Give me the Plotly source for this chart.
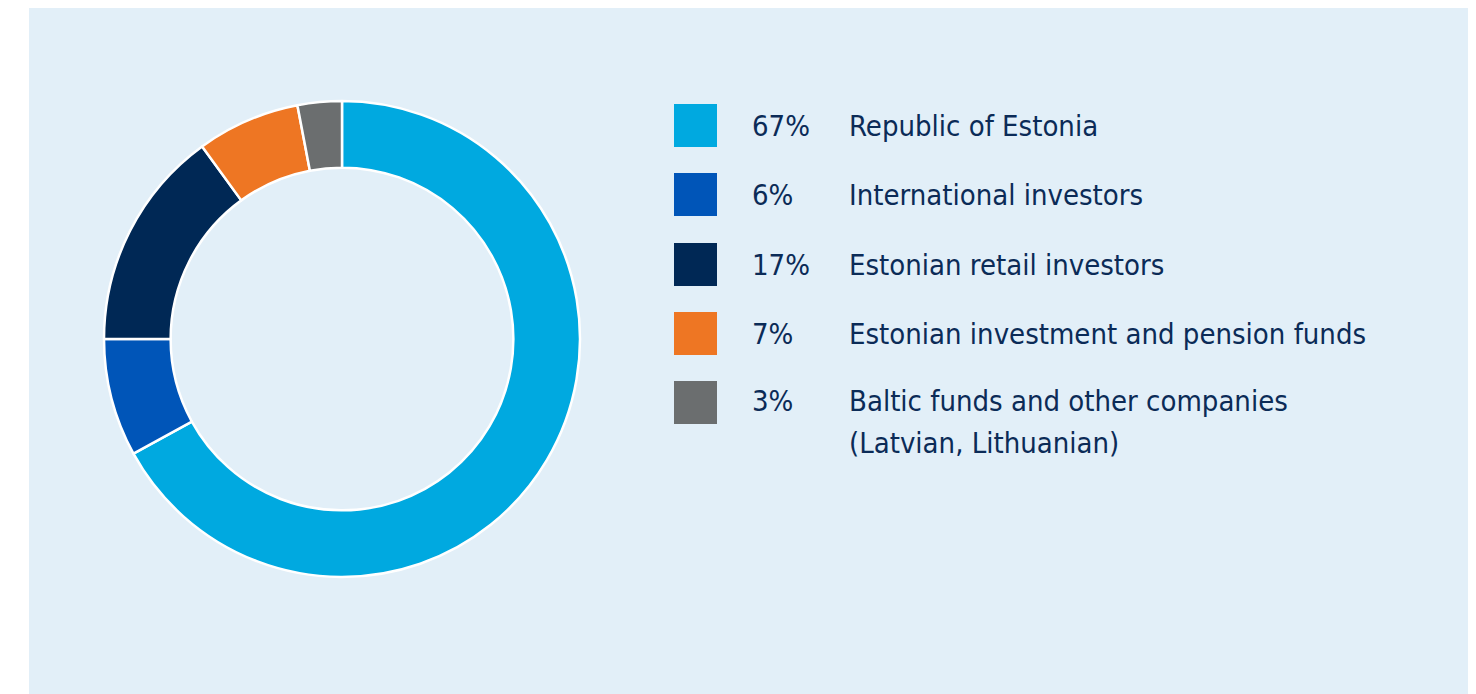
import plotly.graph_objects as go

# ---- data ----
categories = [
    "Republic of Estonia",
    "International investors",
    "Estonian retail investors",
    "Estonian investment and pension funds",
    "Baltic funds and other companies",
]
category_extra = ["", "", "", "", "(Latvian, Lithuanian)"]
slice_values = [67, 8, 15, 7, 3]          # as drawn in the donut
percent_labels = ["67%", "6%", "17%", "7%", "3%"]  # as printed in the legend
colors = ["#00a9e0", "#0055b8", "#002855", "#ee7623", "#6b6e6f"]

W, H = 1476, 694
OFF = 8  # page body margin
PANEL = "#e2eff8"
TEXT = "#0b2b57"
FONT = "DejaVu Sans Condensed, Liberation Sans Narrow, Lato, sans-serif"


def px(x):
    return (x - OFF) / W


def py(y):
    return 1 - (y - OFF) / H


fig = go.Figure()
fig.add_trace(go.Pie(
    labels=categories,
    values=slice_values,
    sort=False,
    direction="clockwise",
    rotation=0,
    hole=0.72,
    marker=dict(colors=colors, line=dict(color="white", width=2.5)),
    textinfo="none",
    hoverinfo="label+percent",
    domain=dict(x=[px(104), px(580)], y=[py(577), py(101)]),
    showlegend=False,
))

shapes = [dict(type="rect", xref="paper", yref="paper",
               x0=px(29), x1=1.0, y0=0, y1=py(8),
               fillcolor=PANEL, line=dict(width=0), layer="below")]
annotations = []
row_top = [104, 173, 243, 312, 381]
for i, cat in enumerate(categories):
    top = row_top[i]
    shapes.append(dict(type="rect", xref="paper", yref="paper",
                       x0=px(674), x1=px(717), y0=py(top + 43), y1=py(top),
                       fillcolor=colors[i], line=dict(width=0)))
    yc = top + 22 if i < 4 else top + 20
    annotations.append(dict(x=px(750), y=py(yc), xref="paper", yref="paper",
                            text=percent_labels[i], showarrow=False,
                            xanchor="left", yanchor="middle",
                            font=dict(family=FONT, size=29, color=TEXT)))
    annotations.append(dict(x=px(847), y=py(yc), xref="paper", yref="paper",
                            text=cat, showarrow=False,
                            xanchor="left", yanchor="middle",
                            font=dict(family=FONT, size=29, color=TEXT)))
    if category_extra[i]:
        annotations.append(dict(x=px(847), y=py(yc + 42), xref="paper", yref="paper",
                                text=category_extra[i], showarrow=False,
                                xanchor="left", yanchor="middle",
                                font=dict(family=FONT, size=29, color=TEXT)))

fig.update_layout(
    width=W, height=H,
    margin=dict(l=0, r=0, t=0, b=0),
    paper_bgcolor="white",
    plot_bgcolor="white",
    shapes=shapes,
    annotations=annotations,
)

fig.write_html("out.html")
